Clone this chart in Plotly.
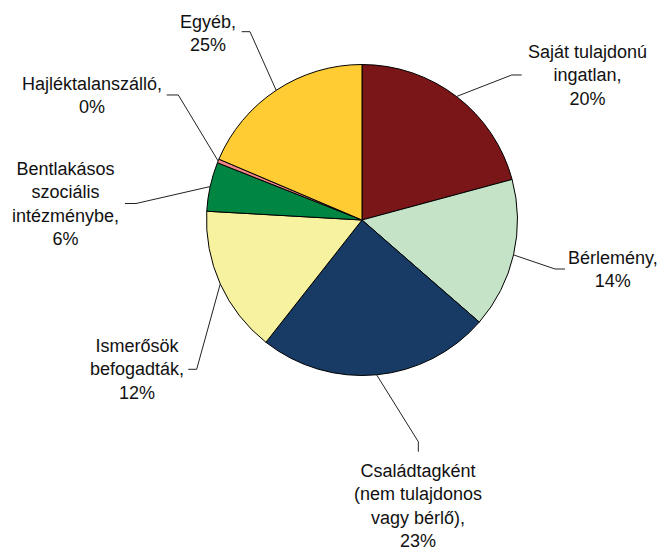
import math
import plotly.graph_objects as go

# ---- data ----
categories = [
    "Saját tulajdonú<br>ingatlan",
    "Bérlemény",
    "Családtagként<br>(nem tulajdonos<br>vagy bérlő)",
    "Ismerősök<br>befogadták",
    "Bentlakásos<br>szociális<br>intézménybe",
    "Hajléktalanszálló",
    "Egyéb",
]
slice_values = [20.8, 15.6, 24.2, 15.3, 5.1, 0.4, 18.6]   # sizes as drawn
label_percents = [20, 14, 23, 12, 6, 0, 25]               # percentages printed on labels
colors = ["#7A1518", "#C5E3C6", "#183B66", "#F7F2A0", "#008542", "#F08486", "#FFCC33"]

# ---- layout geometry (pixels) ----
W, H = 662, 549
CX, CY, R = 362, 220, 155.5

# label placement: text centre (x, y), elbow point, end point
label_pos = [
    ((587, 76), (511.7, 75), (521.7, 75)),
    ((613, 269), (555, 269), (565, 269)),
    ((418, 506), (418.3, 441.7), (418.3, 451.7)),
    ((137, 369), (196.7, 369.3), (188.3, 369.3)),
    ((65, 204), (136, 203.5), (125, 203.5)),
    ((92, 95), (178.3, 95), (166.7, 95)),
    ((208, 33.5), (250, 31.7), (241.7, 31.7)),
]


def px(x):
    return x / W


def py(y):
    return 1 - y / H


fig = go.Figure(
    go.Pie(
        values=slice_values,
        labels=[c.replace("<br>", " ") for c in categories],
        sort=False,
        direction="clockwise",
        rotation=0,
        marker=dict(colors=colors, line=dict(color="#000000", width=1)),
        textinfo="none",
        hoverinfo="label",
        showlegend=False,
        domain=dict(x=[px(CX - R), px(CX + R)], y=[py(CY + R), py(CY - R)]),
    )
)

total = sum(slice_values)
cum = 0.0
shapes = []
annotations = []
for cat, v, pct, (tpos, elbow, end) in zip(categories, slice_values, label_percents, label_pos):
    mid = (cum + v / 2) / total * 2 * math.pi
    cum += v
    rx = CX + R * math.sin(mid)
    ry = CY - R * math.cos(mid)
    path = "M {:.4f} {:.4f} L {:.4f} {:.4f} L {:.4f} {:.4f}".format(
        px(rx), py(ry), px(elbow[0]), py(elbow[1]), px(end[0]), py(end[1])
    )
    shapes.append(dict(type="path", xref="paper", yref="paper", path=path,
                       line=dict(color="#222222", width=1)))
    annotations.append(dict(
        x=px(tpos[0]), y=py(tpos[1]), xref="paper", yref="paper",
        text=f"{cat},<br>{pct}%", showarrow=False, xanchor="center", yanchor="middle",
        align="center", font=dict(family="Liberation Sans, Arial, sans-serif", size=18, color="#111111"),
    ))

fig.update_layout(
    width=W, height=H,
    margin=dict(l=0, r=0, t=0, b=0),
    paper_bgcolor="white", plot_bgcolor="white",
    shapes=shapes, annotations=annotations,
)

fig.write_html("out.html")
